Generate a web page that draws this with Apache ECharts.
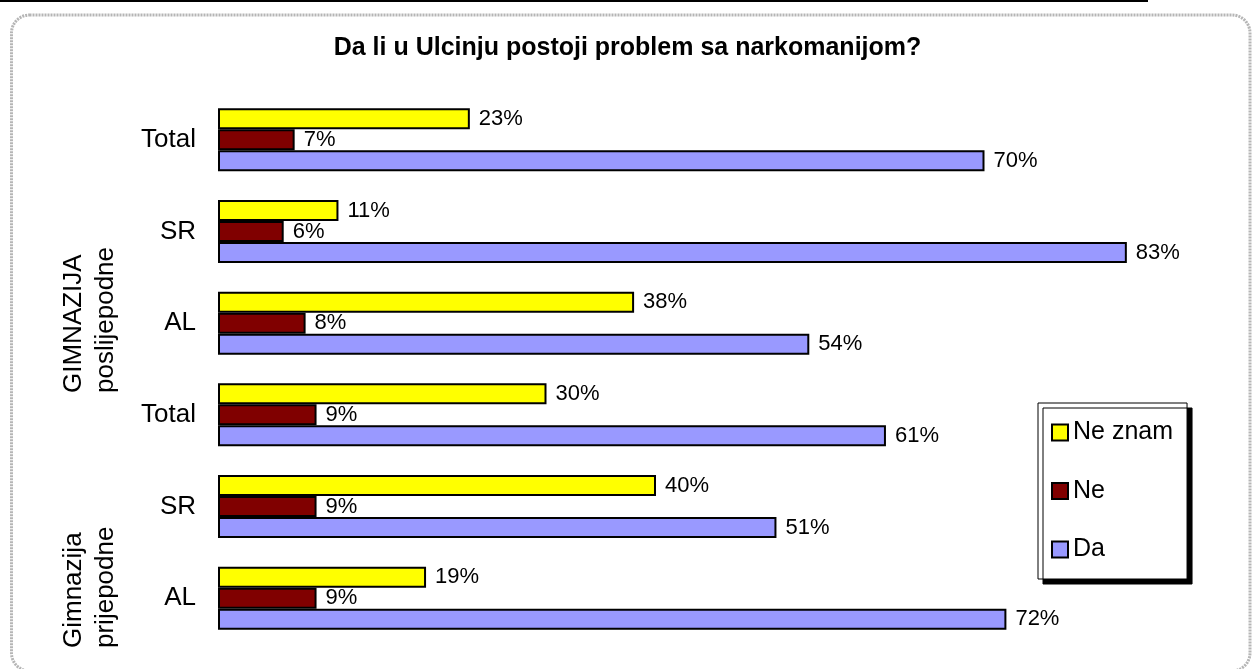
<!DOCTYPE html>
<html>
<head>
<meta charset="utf-8" />
<title>Da li u Ulcinju postoji problem sa narkomanijom?</title>
<script src="https://cdn.jsdelivr.net/npm/echarts@6/dist/echarts.min.js"></script>
<style>
  html,
  body {
    margin: 0;
    padding: 0;
    background: #fff;
  }
  .box-chart {
    width: 1255px;
    height: 669px;
  }
</style>
</head>
<body>
<div class="box-chart"></div>
<script>
// kategorije (odozgo prema dolje)
const categories = ["Total", "SR", "AL", "Total", "SR", "AL"];
// serije u %
const neZnam = [23, 11, 38, 30, 40, 19];
const ne = [7, 6, 8, 9, 9, 9];
const da = [70, 83, 54, 61, 51, 72];
const seriesNames = ["Ne znam", "Ne", "Da"];

const font = "Arial, 'Liberation Sans', sans-serif";

const barSeries = (name, data, color) => ({
  name: name,
  type: "bar",
  data: data,
  barWidth: 21,
  barGap: "0%",
  itemStyle: {
    color: color,
    borderColor: "#000",
    borderWidth: 2,
  },
  label: {
    show: true,
    position: "right",
    distance: 9,
    formatter: "{c}%",
    color: "#000",
    fontSize: 22,
    fontFamily: font,
  },
});

// tekst grupe (rotiran)
const groupText = (text, x, y) => ({
  type: "text",
  x: x,
  y: y,
  rotation: Math.PI / 2,
  style: { text: text, fill: "#000", font: "26px " + font, align: "left", verticalAlign: "middle" },
});

const initBar = () => {
  const charts = echarts.init(document.querySelector(".box-chart"));
  charts.setOption({
    animation: false,
    title: {
      text: "Da li u Ulcinju postoji problem sa narkomanijom?",
      left: "center",
      top: 31,
      textStyle: {
        color: "#000",
        fontSize: 25,
        fontWeight: "bold",
        fontFamily: font,
      },
    },
    // legenda desno dolje, sa sjenom
    legend: {
      data: seriesNames,
      orient: "vertical",
      left: 1038,
      top: 403,
      padding: [17, 14, 17, 13],
      icon: "rect",
      itemWidth: 16,
      itemHeight: 16,
      itemGap: 33.5,
      textGap: 6,
      backgroundColor: "#fff",
      borderColor: "#000",
      borderWidth: 1,
      shadowColor: "#000",
      shadowBlur: 0,
      shadowOffsetX: 5,
      shadowOffsetY: 5,
      textStyle: {
        color: "#000",
        fontSize: 25,
        fontFamily: font,
      },
    },
    grid: {
      top: 94,
      bottom: 25,
      left: 218,
      right: 51.5,
    },
    xAxis: {
      type: "value",
      min: 0,
      max: 90,
      show: false,
    },
    yAxis: {
      type: "category",
      inverse: true,
      data: categories,
      axisLine: { show: false },
      axisTick: { show: false },
      axisLabel: {
        color: "#000",
        fontSize: 26,
        fontFamily: font,
        margin: 22,
      },
    },
    graphic: [
      // gornja linija
      {
        type: "line",
        shape: { x1: 0, y1: 1, x2: 1148, y2: 1 },
        style: { stroke: "#000", lineWidth: 2 },
      },
      // okvir
      {
        type: "rect",
        shape: { x: 11.5, y: 15, width: 1238.5, height: 656, r: 18 },
        style: { fill: null, stroke: "#b5b5b5", lineWidth: 3, lineDash: [2, 1] },
        z: -1,
      },
      groupText("GIMNAZIJA", 74, 393),
      groupText("poslijepodne", 106, 393),
      groupText("Gimnazija", 74, 648),
      groupText("prijepodne", 106, 648),
    ],
    series: [
      barSeries(seriesNames[0], neZnam, "#FFFF00"),
      barSeries(seriesNames[1], ne, "#800000"),
      barSeries(seriesNames[2], da, "#9999FF"),
    ],
  });
};

initBar();
</script>
</body>
</html>
